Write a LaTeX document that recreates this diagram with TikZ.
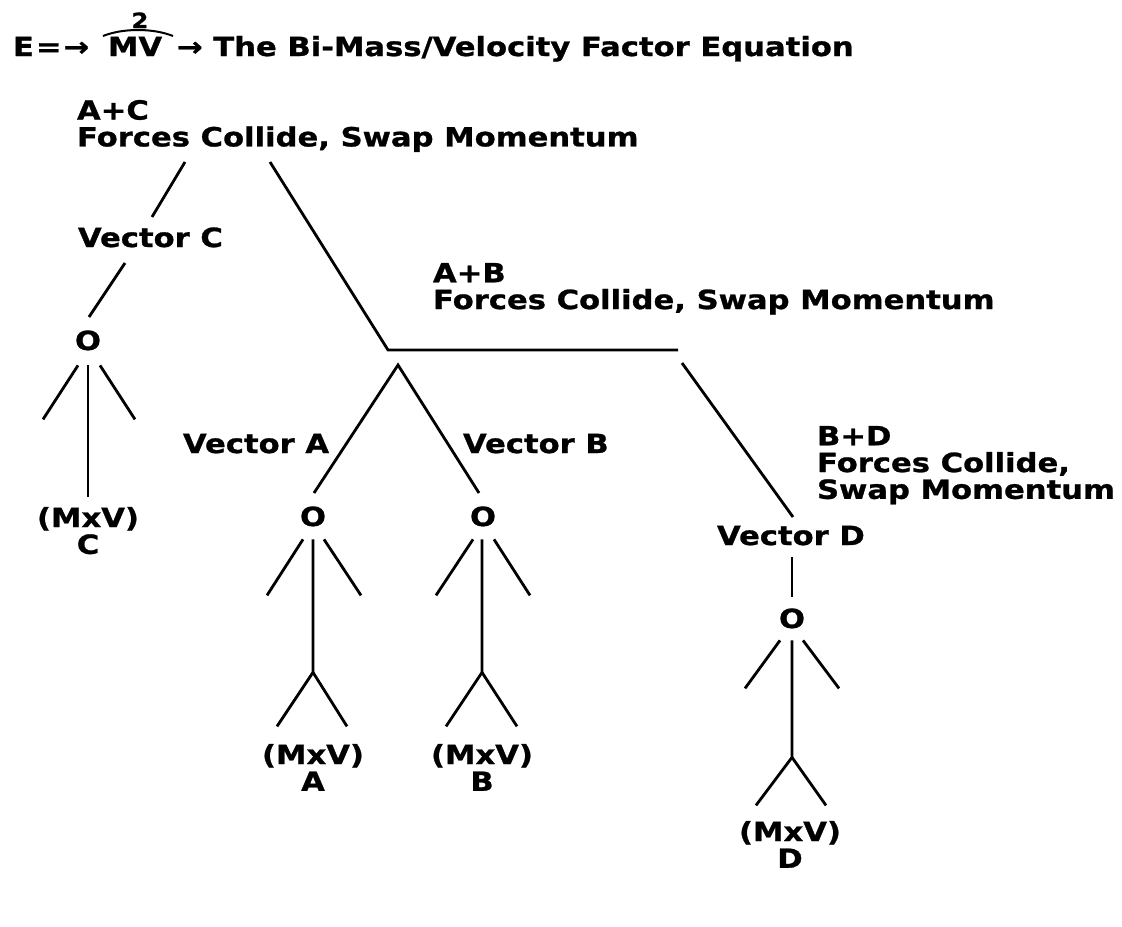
\documentclass[tikz,border=0pt]{standalone}
\usepackage{fontspec}
\setmainfont{DejaVu Sans}[FakeStretch=1.16, BoldFeatures={FakeBold=1}]
\usetikzlibrary{positioning, calc}

\begin{document}
\begin{tikzpicture}[
    x=0.5pt, y=-0.5pt,
    lbl/.style={font=\bfseries\fontsize{13.2}{13.4}\selectfont, inner sep=0pt, outer sep=0pt},
    small/.style={font=\bfseries\fontsize{10.5}{10.5}\selectfont, inner sep=0pt, outer sep=0pt},
    stick/.style={line width=1.4pt, black},
]
\useasboundingbox (0,0) rectangle (1122,926);

% Equation header
\node[lbl, anchor=base west] (eq) at (13,56) {E\kern1pt=\kern1pt→};
\node[lbl, anchor=base west] (mv) at (108,56) {MV};
\node[lbl, anchor=base west] (title) at (177,56) {→ The Bi-Mass/Velocity Factor Equation};
\node[small, anchor=base] (two) at (140,28) {2};
\coordinate (arcL) at (103,36);
\coordinate (arcR) at (173,36);
\draw[line width=1pt] (arcL) .. controls (123,28) and (153,28) .. (arcR);

% Collision labels
\node[lbl, anchor=north west, align=left] (ac) at (77,100) {A+C\\Forces Collide, Swap Momentum};
\node[lbl, anchor=north west, align=left] (ab) at (433,263) {A+B\\Forces Collide, Swap Momentum};
\node[lbl, anchor=north west, align=left] (bd) at (817,426) {B+D\\Forces Collide,\\Swap Momentum};

% Vectors
\node[lbl, anchor=base west] (vc) at (78,247) {Vector C};
\node[lbl, anchor=base west] (va) at (183,453) {Vector A};
\node[lbl, anchor=base west] (vb) at (463,453) {Vector B};
\node[lbl, anchor=base west] (vd) at (717,545) {Vector D};

% Bodies
\node[lbl, anchor=base] (oc) at (88,350) {O};
\node[lbl, anchor=base] (oa) at (313,526) {O};
\node[lbl, anchor=base] (ob) at (483,526) {O};
\node[lbl, anchor=base] (od) at (792,628) {O};

% Momentum
\node[lbl, anchor=north, align=center] (mc) at (88,507) {(MxV)\\C};
\node[lbl, anchor=north, align=center] (ma) at (313,744) {(MxV)\\A};
\node[lbl, anchor=north, align=center] (mb) at (482,744) {(MxV)\\B};
\node[lbl, anchor=north, align=center] (md) at (790,821) {(MxV)\\D};

% Branch points
\coordinate (acL) at (185,162);
\coordinate (acR) at (270,162);
\coordinate (abCorner) at (388,350);
\coordinate (abEnd) at (678,350);
\coordinate (abTop) at (398,365);
\coordinate (bdTop) at (682,363);

% A+C branches
\draw[stick] (acL) -- (152,217);
\draw[stick] (acR) -- (abCorner) -- (abEnd);
\draw[stick] (125,263) -- (89,317);

% A+B branches
\draw[stick] (314,493) -- (abTop) -- (479,493);

% B+D branch
\draw[stick] (bdTop) -- (793,517);
\draw[stick] (vd.south -| od) ++(0,12) -- (792,597);

% Figure C
\draw[stick] (oc.south) ++(-10,15) -- ++(-35,54);
\draw[stick] (oc.south) ++(0,15) -- ++(0,132);
\draw[stick] (oc.south) ++(12,15) -- ++(35,54);

% Figure A
\draw[stick] (oa.south) ++(-10,13) -- ++(-36,56);
\draw[stick] (oa.south) ++(11,13) -- ++(37,56);
\draw[stick] (oa.south) ++(0,13) -- ++(0,133) -- ++(-36,54);
\draw[stick] (oa.south) ++(0,146) -- ++(34,54);

% Figure B
\draw[stick] (ob.south) ++(-10,13) -- ++(-37,56);
\draw[stick] (ob.south) ++(11,13) -- ++(36,56);
\draw[stick] (ob.south) ++(-1,13) -- ++(0,133) -- ++(-36,54);
\draw[stick] (ob.south) ++(-1,146) -- ++(35,54);

% Figure D
\draw[stick] (od.south) ++(-12,12) -- ++(-35,48);
\draw[stick] (od.south) ++(11,12) -- ++(36,48);
\draw[stick] (od.south) ++(0,12) -- ++(0,117) -- ++(-36,48);
\draw[stick] (od.south) ++(0,129) -- ++(34,48);
\end{tikzpicture}
\end{document}
